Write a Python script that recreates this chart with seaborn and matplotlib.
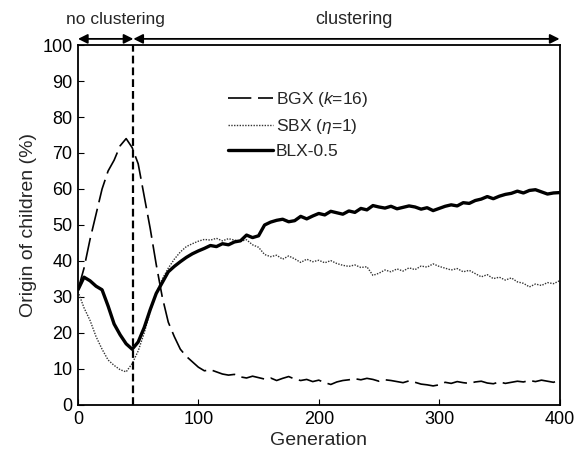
import seaborn as sns
import matplotlib.pyplot as plt
from matplotlib.transforms import blended_transform_factory

# Datos (cada 5 generaciones)
generation = list(range(0, 401, 5))

bgx = [32, 38, 46, 53, 60, 65, 68, 72, 74, 71.5,
       67, 58, 49, 39, 30, 23, 19, 15.5, 13.5, 12,
       10.5, 9.5, 9.8, 9.2, 8.6, 8.3, 8.5, 7.8, 7.5, 8.0,
       7.6, 7.2, 7.5, 6.8, 7.4, 7.9, 7.2, 6.8, 7.1, 6.5,
       6.9, 6.2, 5.7, 6.4, 6.8, 7.0, 7.3, 7.0, 7.4, 7.1,
       6.6, 7.0, 6.8, 6.5, 6.2, 6.7, 6.3, 5.8, 5.6, 5.3,
       5.6, 6.3, 6.0, 6.5, 6.2, 6.0, 6.4, 6.6, 6.1, 5.9,
       6.4, 6.0, 6.3, 6.6, 6.4, 6.8, 6.5, 6.9, 6.6, 6.3,
       6.9]

sbx = [31.5, 27, 23.5, 19, 15.5, 12.5, 11, 9.8, 9.2, 11.5,
       15, 20, 26, 31, 35, 38, 40.5, 42.5, 44, 44.8,
       45.5, 46, 45.8, 46.3, 45.6, 46.2, 45.8, 45.5, 45.9, 44.5,
       43.8, 41.8, 41.2, 41.6, 40.5, 41.4, 40.6, 39.6, 40.5, 39.8,
       40.2, 39.5, 40.1, 39.3, 38.8, 38.5, 38.9, 38.2, 38.4, 36.0,
       36.6, 37.5, 37.0, 37.8, 37.2, 38.1, 37.6, 38.6, 38.3, 39.2,
       38.5, 38.0, 37.5, 37.9, 37.0, 37.4, 36.5, 35.6, 36.2, 35.1,
       35.5, 34.7, 35.3, 34.2, 33.8, 32.8, 33.6, 33.2, 34.0, 33.7,
       34.5]

blx = [32, 35.5, 34.5, 33, 32, 27.5, 22.5, 19.5, 17, 15.5,
       17.5, 21.5, 26.5, 31, 34, 37, 38.5, 39.8, 41, 42,
       42.8, 43.5, 44.3, 44.0, 44.8, 44.5, 45.3, 45.6, 47.2, 46.5,
       47.0, 50.0, 50.8, 51.3, 51.6, 50.9, 51.2, 52.4, 51.7, 52.5,
       53.2, 52.8, 53.8, 53.4, 53.0, 53.9, 53.5, 54.6, 54.2, 55.4,
       55.0, 54.7, 55.2, 54.5, 54.9, 55.3, 55.0, 54.4, 54.8, 54.0,
       54.6, 55.2, 55.6, 55.3, 56.2, 56.0, 56.8, 57.2, 57.9, 57.3,
       58.0, 58.5, 58.8, 59.4, 58.9, 59.6, 59.8, 59.2, 58.6, 58.9,
       59.0]

switch_gen = 46  # fin de la fase sin clustering

sns.set_style("ticks")
plt.rcParams["font.family"] = ["Liberation Sans", "DejaVu Sans"]
plt.rcParams["mathtext.fontset"] = "custom"
plt.rcParams["mathtext.it"] = "Liberation Sans:italic"

fig = plt.figure(figsize=(5.76, 4.63), dpi=100)
ax = fig.add_axes([0.1354, 0.1253, 0.8360, 0.7775])

sns.lineplot(x=generation, y=bgx, ax=ax, color="black", lw=1.2,
             linestyle=(0, (14, 4)), label=r"BGX ($k$=16)")
sns.lineplot(x=generation, y=sbx, ax=ax, color="#333333", lw=1.0,
             linestyle=(0, (1, 1)), label=r"SBX ($\eta$=1)")
sns.lineplot(x=generation, y=blx, ax=ax, color="black", lw=2.4,
             label="BLX-0.5")

ax.axvline(switch_gen, color="black", lw=1.6, linestyle=(0, (3.5, 1.8)))

ax.set_xlim(0, 400)
ax.set_ylim(0, 100)
ax.set_xticks(range(0, 401, 100))
ax.set_yticks(range(0, 101, 10))
ax.tick_params(direction="in", length=4, width=0.8, labelsize=13,
               colors="black", pad=4)
for s in ax.spines.values():
    s.set_linewidth(1.3)
    s.set_color("black")
ax.set_xlabel("Generation", fontsize=14, labelpad=3)
ax.set_ylabel("Origin of children (%)", fontsize=14, labelpad=4)

# Flechas de fases encima del gráfico
trans = blended_transform_factory(ax.transData, ax.transAxes)
arrow_kw = dict(arrowstyle="<|-|>", color="black", lw=1.3,
                shrinkA=0, shrinkB=0, mutation_scale=14)
ax.annotate("", xy=(0, 1.017), xytext=(switch_gen, 1.017),
            xycoords=trans, textcoords=trans, arrowprops=arrow_kw,
            annotation_clip=False)
ax.annotate("", xy=(switch_gen, 1.017), xytext=(400, 1.017),
            xycoords=trans, textcoords=trans, arrowprops=arrow_kw,
            annotation_clip=False)
ax.text(31, 1.07, "no clustering", transform=trans, ha="center",
        va="center", fontsize=12.5)
ax.text(229, 1.07, "clustering", transform=trans, ha="center",
        va="center", fontsize=13)

ax.legend(loc="upper left", bbox_to_anchor=(0.312, 0.875), frameon=False,
          fontsize=12.5, handlelength=2.6, handletextpad=0.15,
          labelspacing=0.45, borderaxespad=0, borderpad=0)

fig.savefig("out.png", dpi=100)
